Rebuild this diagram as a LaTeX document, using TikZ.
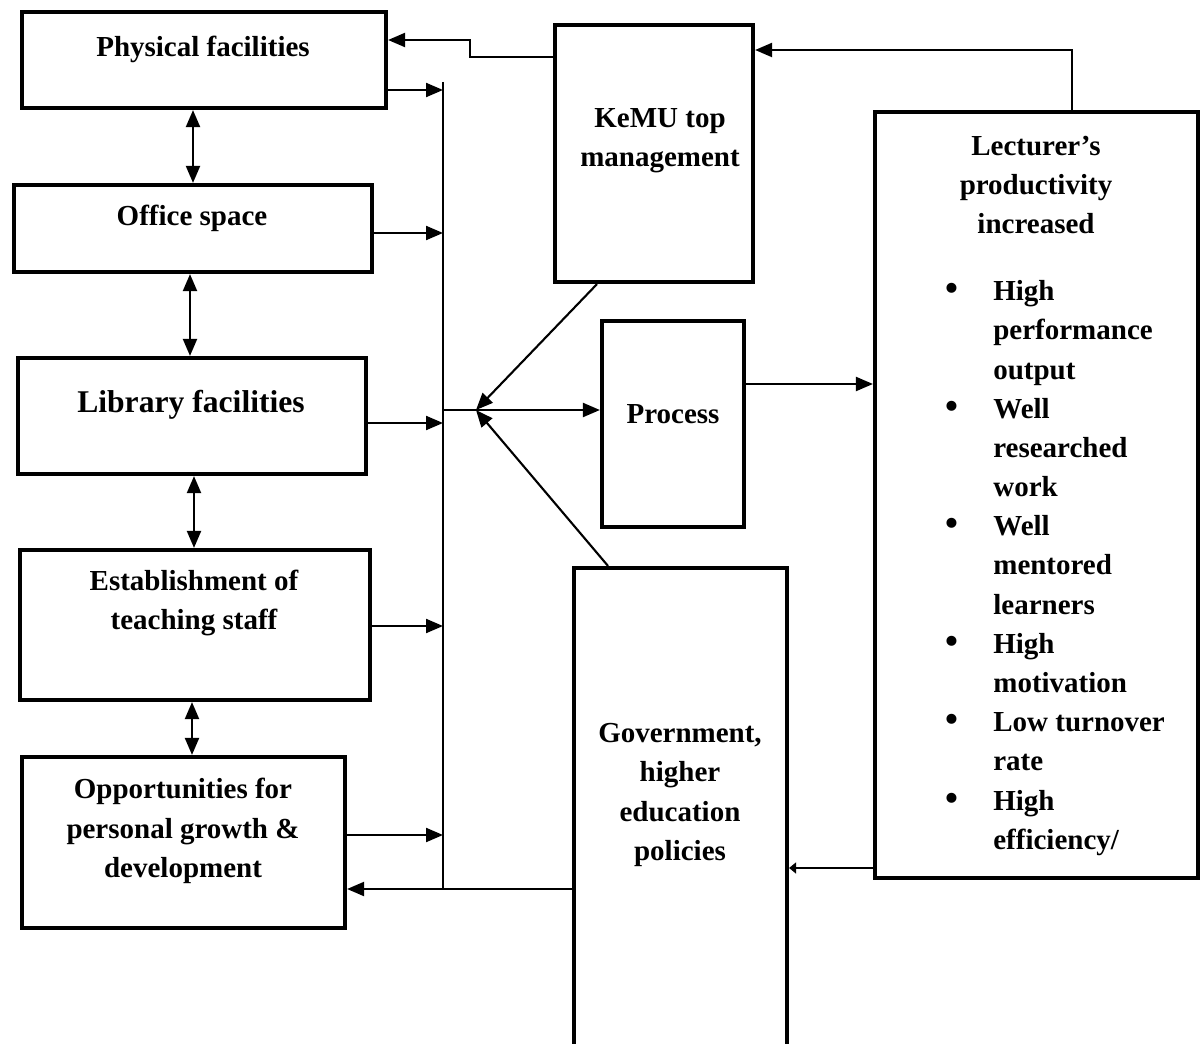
\documentclass[tikz,border=0pt]{standalone}
\usepackage{fontspec}
\setmainfont{Liberation Serif}
\usetikzlibrary{positioning,arrows.meta}

\newcommand{\blt}{\llap{{\fontsize{21}{21}\selectfont\textbullet}\hspace{0.7cm}}}

\begin{document}
\begin{tikzpicture}[
x=0.02cm, y=-0.02cm,
box/.style={draw, line width=2.4pt, inner sep=0pt},
txt/.style={font=\bfseries\fontsize{16.5}{22.3}\selectfont, align=center, inner sep=0pt},
arr/.style={line width=1.2pt, -{Triangle[length=0.34cm,width=0.28cm]}},
dbl/.style={line width=1.2pt, {Triangle[length=0.34cm,width=0.28cm]}-{Triangle[length=0.34cm,width=0.28cm]}},
]
\useasboundingbox (0,0) rectangle (1204,1044);

% left column
\node[box, minimum width=7.28cm, minimum height=1.92cm] (phys) at (204,60) {};
\node[box, minimum width=7.16cm, minimum height=1.74cm] (office) at (193,228.5) {};
\node[box, minimum width=6.96cm, minimum height=2.32cm] (lib) at (192,416) {};
\node[box, minimum width=7.00cm, minimum height=3.00cm] (estab) at (195,625) {};
\node[box, minimum width=6.46cm, minimum height=3.42cm] (opp) at (183.5,842.5) {};

% middle and right
\node[box, minimum width=3.96cm, minimum height=5.14cm] (kemu) at (654,153.5) {};
\node[box, minimum width=2.84cm, minimum height=4.12cm] (proc) at (673,424) {};
\node[box, minimum width=4.26cm, minimum height=9.76cm] (gov) at (680.5,812) {};
\node[box, minimum width=6.46cm, minimum height=15.32cm] (lect) at (1036.5,495) {};

% texts
\node[txt] (physT) at (203,49) {Physical facilities};
\node[txt] (officeT) at (192,218) {Office space};
\node[txt, font=\bfseries\fontsize{18}{22.3}\selectfont] (libT) at (191,405) {Library facilities};
\node[txt] (estabT) at (194,603) {Establishment of\\teaching staff};
\node[txt] (oppT) at (183,831) {Opportunities for\\personal growth \&\\development};
\node[txt] (kemuT) at (660,141) {KeMU top\\management};
\node[txt] (procT) at (673,414) {Process};
\node[txt] (govT) at (680,795) {Government,\\higher\\education\\policies};
\node[txt] (lectT) at (1036,185) {Lecturer’s\\productivity\\increased};
\node[txt, align=left, anchor=west] (lectL) at (993,568) {%
\blt High\\performance\\output\\
\blt Well\\researched\\work\\
\blt Well\\mentored\\learners\\
\blt High\\motivation\\
\blt Low turnover\\rate\\
\blt High\\efficiency/};

% bus line
\coordinate (bus) at (443,82);
\coordinate (busend) at (443,890);
\coordinate (jn) at (476,410);
\draw[line width=0.8pt] (bus) -- (busend);

\draw[arr] (phys.east |- 0,90) -- (bus |- 0,90);
\draw[arr] (office.east |- 0,233) -- (bus |- 0,233);
\draw[arr] (lib.east |- 0,423) -- (bus |- 0,423);
\draw[arr] (estab.east |- 0,626) -- (bus |- 0,626);
\draw[arr] (opp.east |- 0,835) -- (bus |- 0,835);
\draw[arr] (gov.west |- 0,889) -- (opp.east |- 0,889);

% vertical links
\draw[dbl] (phys.south -| 193,0) -- (office.north -| 193,0);
\draw[dbl] (office.south -| 190,0) -- (lib.north -| 190,0);
\draw[dbl] (lib.south -| 194,0) -- (estab.north -| 194,0);
\draw[dbl] (estab.south -| 192,0) -- (opp.north -| 192,0);

% flows
\draw[arr] (bus |- jn) -- (proc.west |- jn);
\draw[arr] (kemu.south -| 597,0) -- (jn);
\draw[arr] (gov.north -| 608,0) -- (jn);
\draw[arr] (kemu.west |- 0,57) -- (470,57) |- (phys.east |- 0,40);
\draw[arr] (lect.north -| 1072,0) |- (kemu.east |- 0,50);
\draw[arr] (proc.east |- 0,384) -- (lect.west |- 0,384);
\draw[line width=1.2pt, -{Triangle[length=0.14cm,width=0.22cm]}] (lect.west |- 0,868) -- (gov.east |- 0,868);
\end{tikzpicture}
\end{document}
